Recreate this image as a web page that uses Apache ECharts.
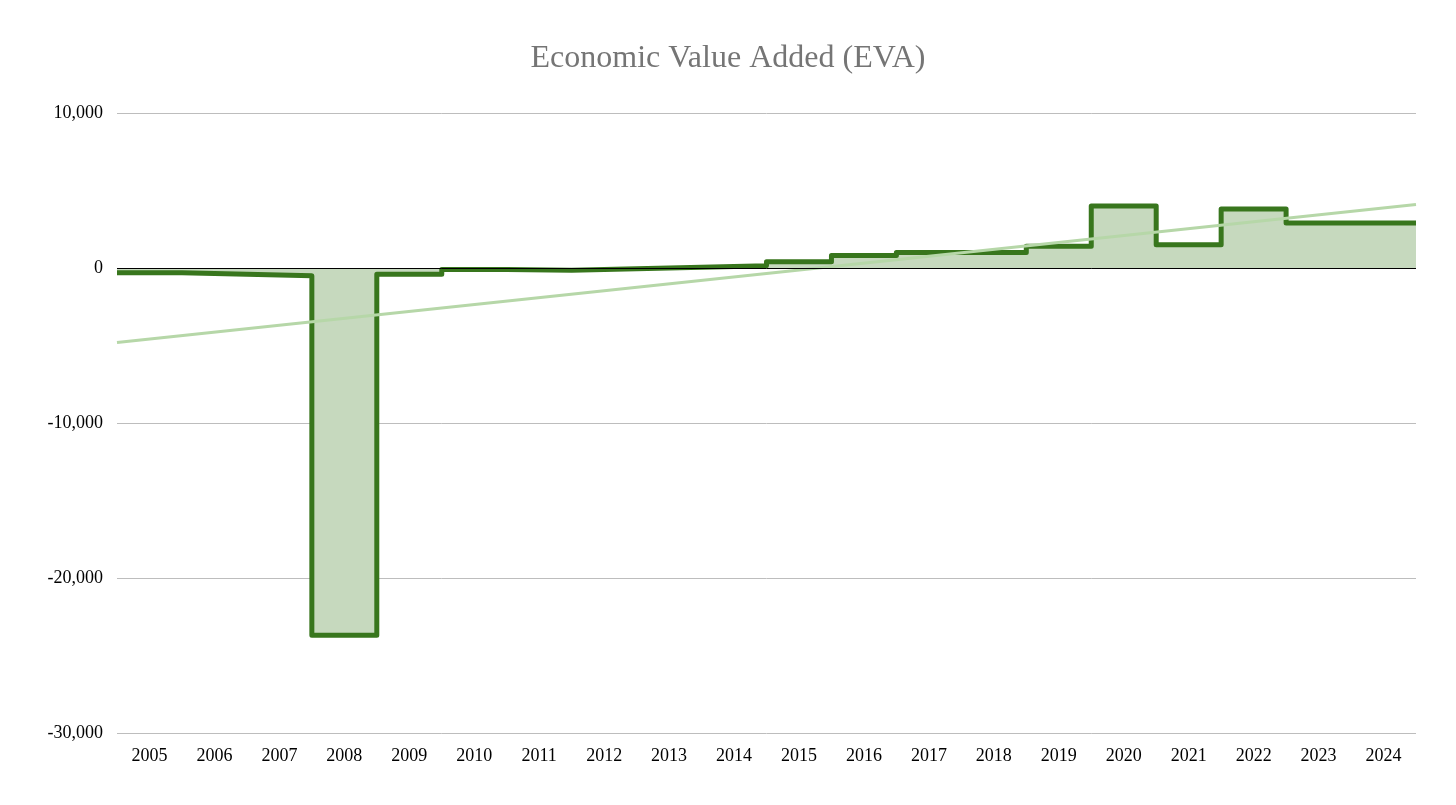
<!DOCTYPE html>
<html>
<head>
<meta charset="utf-8">
<script src="https://cdn.jsdelivr.net/npm/echarts@6/dist/echarts.min.js"></script>
<style>html,body{margin:0;background:#fff}#chart{width:1456px;height:805px}</style>
</head>
<body>
<div id="chart"></div>
<script>
var years = ['2005','2006','2007','2008','2009','2010','2011','2012','2013','2014',
  '2015','2016','2017','2018','2019','2020','2021','2022','2023','2024'];
var eva = [-300, -400, -500, -23700, -400, -100, -150, -50, 50, 150,
  400, 800, 1000, 1000, 1400, 4000, 1500, 3800, 2900, 2900];
var trendEnds = [-4800, 4100];

// step points on a hidden value axis: each year spans [i, i+1]
var stepData = eva.map(function (v, i) { return [i, v]; });
stepData.push([eva.length, eva[eva.length - 1]]);

var font = '"Liberation Serif", "Times New Roman", serif';
var chart = echarts.init(document.getElementById('chart'));
chart.setOption({
  animation: false,
  title: {
    text: 'Economic Value Added (EVA)', left: 'center', top: 38,
    textStyle: { fontFamily: font, fontSize: 32, fontWeight: 'normal', color: '#757575' }
  },
  grid: { left: 117, right: 40, top: 113, bottom: 72 },
  xAxis: [{
    type: 'category', data: years, boundaryGap: true,
    axisLine: { show: false }, axisTick: { show: false },
    axisLabel: { fontFamily: font, fontSize: 18, color: '#000', margin: 14 }
  }, {
    type: 'value', min: 0, max: years.length, show: false
  }],
  yAxis: {
    type: 'value', min: -30000, max: 10000, interval: 10000,
    axisLine: { show: false }, axisTick: { show: false },
    axisLabel: {
      fontFamily: font, fontSize: 18, color: '#000', margin: 14,
      formatter: function (v) { return v.toLocaleString('en-US'); }
    },
    splitLine: { lineStyle: { color: '#bdbdbd', width: 1 } }
  },
  series: [{
    type: 'line', xAxisIndex: 1, data: stepData, step: 'end',
    symbol: 'none',
    lineStyle: { color: '#38761d', width: 5, join: 'round' },
    areaStyle: { color: '#c6d9be', opacity: 1 },
    markLine: {
      silent: true, symbol: 'none', label: { show: false },
      lineStyle: { color: '#000', width: 1, type: 'solid' },
      data: [{ yAxis: 0 }]
    },
    z: 3
  }, {
    type: 'line', xAxisIndex: 1,
    data: [[0, trendEnds[0]], [years.length, trendEnds[1]]],
    symbol: 'none',
    lineStyle: { color: '#b6d7a8', width: 3 },
    z: 4
  }]
});
</script>
</body>
</html>
